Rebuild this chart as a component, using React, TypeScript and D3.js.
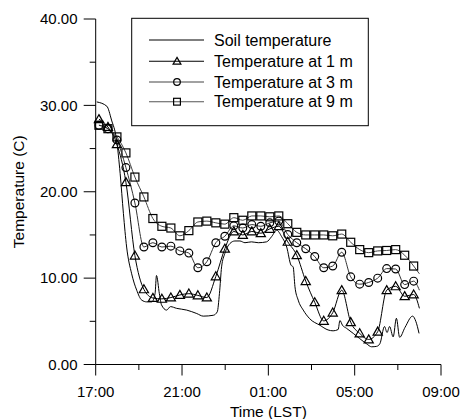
import React from 'react';
import * as d3 from 'd3';

// Times of the marker samples (last one has no marker, line end)
const TIMES = [
  "17:09", "17:34", "17:59", "18:24", "18:49", "19:14", "19:39", "20:04", "20:29", "20:54",
  "21:19", "21:44", "22:09", "22:34", "22:59", "23:24", "23:49", "00:14", "00:39", "01:04",
  "01:29", "01:54", "02:19", "02:44", "03:09", "03:34", "03:59", "04:24", "04:49", "05:14",
  "05:39", "06:04", "06:29", "06:54", "07:19", "07:44", "08:00",
];
const TEMP_1M = [
  28.4, 27.5, 25.5, 21.1, 12.6, 8.7, 7.7, 7.6, 7.75, 8.05,
  8.2, 8.0, 7.75, 10.2, 13.4, 15.4, 15.0, 15.4, 15.2, 15.7,
  16.0, 14.2, 12.65, 9.65, 7.2, 5.05, 6.0, 8.6, 4.9, 3.6,
  2.9, 3.8, 8.6, 9.05, 7.9, 8.1, 6.5,
];
const TEMP_3M = [
  27.7, 27.3, 26.0, 22.8, 18.7, 13.6, 14.1, 13.6, 13.7, 13.15,
  12.9, 11.2, 11.9, 14.1, 14.85, 16.05, 15.8, 16.2, 16.0, 16.4,
  16.6, 15.05, 14.1, 13.4, 12.5, 11.2, 11.4, 13.0, 10.15, 9.3,
  9.5, 10.0, 11.1, 11.05, 9.25, 9.65, 8.6,
];
const TEMP_9M = [
  27.7, 27.3, 26.35, 24.5, 21.7, 19.4, 16.9, 16.0, 15.8, 14.9,
  15.5, 16.5, 16.6, 16.4, 16.25, 17.0, 16.7, 17.2, 17.2, 17.1,
  17.2, 16.3, 15.3, 15.0, 15.0, 15.0, 14.9, 15.1, 14.15, 13.3,
  12.95, 13.15, 13.2, 13.3, 12.65, 11.4, 10.5,
];

const SOIL_TIMES = [
  "17:03", "17:31", "17:44", "17:58", "18:08", "18:17", "18:26", "18:40", "18:54", "19:08",
  "19:22", "19:36", "19:45", "19:49", "19:57", "20:03", "20:17", "20:28", "20:45", "21:13",
  "21:41", "21:59", "22:27", "22:38", "22:44", "22:50", "22:59", "23:13", "23:27", "23:41",
  "23:55", "00:13", "00:32", "00:55", "01:09", "01:23", "01:37", "01:51", "02:03", "02:09",
  "02:14", "02:23", "02:37", "02:55", "03:23", "03:46", "04:00", "04:14", "04:19", "04:26",
  "04:37", "04:56", "05:14", "05:33", "05:47", "06:01", "06:10", "06:23", "06:30", "06:37",
  "06:47", "06:56", "07:05", "07:20", "07:41", "07:50", "07:59",
];
const SOIL_TEMP = [
  30.4, 29.9, 28.3, 26.0, 22.1, 17.5, 13.6, 10.5, 8.6, 7.45,
  7.25, 7.25, 8.2, 10.3, 8.2, 6.9, 6.3, 6.7, 6.5, 6.3,
  5.9, 5.6, 5.7, 6.1, 8.2, 11.3, 12.85, 14.0, 14.3, 14.3,
  14.1, 14.2, 14.1, 14.2, 14.8, 15.55, 14.8, 13.6, 11.5, 11.3,
  9.0, 7.45, 6.3, 5.3, 4.55, 4.0, 3.9, 4.05, 5.1, 4.55,
  4.2, 3.6, 3.0, 2.4, 2.05, 2.1, 2.4, 4.4, 3.7, 4.4,
  3.2, 5.35, 3.15, 4.3, 5.6, 5.0, 3.6,
];

const X_TICKS = ["17:00", "19:00", "21:00", "23:00", "01:00", "03:00", "05:00", "07:00", "09:00"];
const X_LABELS = ["17:00", "21:00", "01:00", "05:00", "09:00"];
const Y_TICKS = [0, 5, 10, 15, 20, 25, 30, 35, 40];
const Y_LABELS = [0, 10, 20, 30, 40];

const LEGEND = ["Soil temperature", "Temperature at 1 m", "Temperature at 3 m", "Temperature at 9 m"];

const FONT = '"Liberation Sans", Arial, Helvetica, sans-serif';

function toHours(s: string) {
  const [h, m] = s.split(':').map(Number);
  let hh = h - 17;
  if (hh < 0) hh += 24;
  return hh + m / 60;
}

function Marker({ kind, cx, cy, s = 1 }: { kind: string; cx: number; cy: number; s?: number }) {
  const common = { fill: 'none', stroke: '#000', strokeWidth: 1.2 };
  if (kind === 'tri') {
    const pts = [[0, -4.6 * s], [4.6 * s, 3.4 * s], [-4.6 * s, 3.4 * s]]
      .map(([a, b]) => `${cx + a},${cy + b}`).join(' ');
    return <polygon points={pts} {...common} />;
  }
  if (kind === 'circ') return <circle cx={cx} cy={cy} r={3.9 * s} {...common} />;
  return <rect x={cx - 4 * s} y={cy - 4 * s} width={8 * s} height={8 * s} {...common} />;
}

export default function App() {
  const W = 461, H = 419;
  const x = d3.scaleLinear().domain([0, 16]).range([95.7, 441]);
  const y = d3.scaleLinear().domain([0, 40]).range([364.5, 19]);

  const line = d3.line<[number, number]>()
    .x(d => x(d[0]))
    .y(d => y(d[1]))
    .curve(d3.curveMonotoneX);

  const mk = (vals: number[]) => TIMES.map((t, i) => [toHours(t), vals[i]] as [number, number]);
  const soil = SOIL_TIMES.map((t, i) => [toHours(t), SOIL_TEMP[i]] as [number, number]);
  const s1 = mk(TEMP_1M), s3 = mk(TEMP_3M), s9 = mk(TEMP_9M);

  const series = [
    { data: s9, kind: 'sq', color: '#444' },
    { data: s3, kind: 'circ', color: '#333' },
    { data: s1, kind: 'tri', color: '#000' },
  ];

  const x0 = x(0), yb = y(0);
  const legendRows = [40, 61.3, 82, 101.7];
  const legendKinds = ['none', 'tri', 'circ', 'sq'];
  const legendColors = ['#000', '#000', '#444', '#555'];

  return (
    <svg width={W} height={H} style={{ position: 'absolute', left: 0, top: 0, background: '#fff' }}
      fontFamily={FONT}>
      <rect x={0} y={0} width={W} height={H} fill="#fff" />
      {/* data lines */}
      <path d={line(soil) || ''} fill="none" stroke="#000" strokeWidth={1} />
      {series.map((s, i) => (
        <g key={i}>
          <path d={line(s.data) || ''} fill="none" stroke={s.color} strokeWidth={1} />
          {s.data.slice(0, -1).map((d, j) => (
            <Marker key={j} kind={s.kind} cx={x(d[0])} cy={y(d[1])} />
          ))}
        </g>
      ))}

      {/* axes */}
      <line x1={x0} x2={x0} y1={y(40)} y2={yb} stroke="#000" strokeWidth={1} />
      <line x1={x0} x2={x(16)} y1={yb} y2={yb} stroke="#000" strokeWidth={1} />
      {X_TICKS.map((t, i) => {
        const h = i === X_TICKS.length - 1 ? 16 : toHours(t);
        const major = X_LABELS.includes(t);
        return <line key={t + i} x1={x(h)} x2={x(h)} y1={yb} y2={yb + (major ? 11 : 5.5)} stroke="#000" />;
      })}
      {X_LABELS.map((t, i) => {
        const h = i === X_LABELS.length - 1 ? 16 : toHours(t);
        return <text key={t + i} x={x(h)} y={397} textAnchor="middle" fontSize={15}>{t}</text>;
      })}
      {Y_TICKS.map(v => {
        const major = Y_LABELS.includes(v);
        return <line key={v} x1={x0 - (major ? 12 : 6)} x2={x0} y1={y(v)} y2={y(v)} stroke="#000" />;
      })}
      {Y_LABELS.map(v => (
        <text key={v} x={77.5} y={y(v)} dy="0.35em" textAnchor="end" fontSize={15}>{v.toFixed(2)}</text>
      ))}
      <text x={(x0 + x(16)) / 2} y={417} textAnchor="middle" fontSize={15.5}>Time (LST)</text>
      <text transform={`translate(23.5,${(y(40) + yb) / 2}) rotate(-90)`} textAnchor="middle" fontSize={15.5}>
        Temperature (C)
      </text>

      {/* legend */}
      <rect x={131.7} y={18.3} width={236.6} height={107.4} fill="#fff" stroke="#000" strokeWidth={1} />
      {LEGEND.map((label, i) => (
        <g key={label}>
          <line x1={149} x2={204} y1={legendRows[i]} y2={legendRows[i]} stroke={legendColors[i]} strokeWidth={1.1} />
          {legendKinds[i] !== 'none' && <Marker kind={legendKinds[i]} cx={177} cy={legendRows[i]} s={0.85} />}
          <text x={214} y={legendRows[i]} dy="0.35em" fontSize={16}>{label}</text>
        </g>
      ))}
    </svg>
  );
}
